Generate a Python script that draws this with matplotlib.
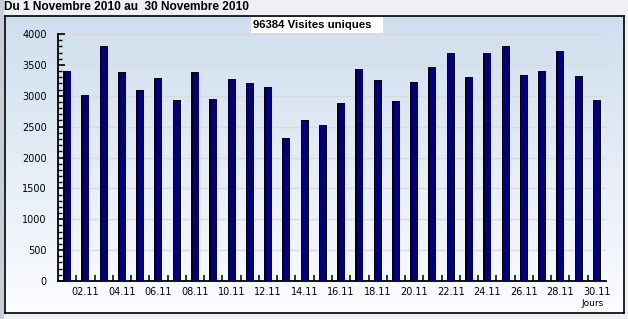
import numpy as np
import matplotlib
matplotlib.use("Agg")
import matplotlib.pyplot as plt
from matplotlib.patches import Rectangle
import matplotlib.transforms as mtransforms

days = list(range(1, 31))
visits = [3400, 3020, 3800, 3380, 3100, 3280, 2930, 3380, 2940, 3270,
          3200, 3140, 2320, 2600, 2530, 2880, 3440, 3250, 2910, 3230,
          3460, 3700, 3300, 3700, 3800, 3330, 3400, 3730, 3320, 2930]
tick_days = list(range(2, 31, 2))
tick_labels = ["%02d.11" % d for d in tick_days]
title = "Du 1 Novembre 2010 au  30 Novembre 2010"
badge = "96384 Visites uniques"
xlabel = "Jours"

W, H = 628, 319
fig = plt.figure(figsize=(W / 100, H / 100), dpi=100)
fig.patch.set_facecolor("#EEF0F4")

def fx(px):
    return px / W

def fy(py):
    return 1 - py / H

# left gray strip
fig.patches.append(Rectangle((0, 0), fx(4), 1, transform=fig.transFigure,
                             facecolor="#C9CDD8", edgecolor="none", zorder=0))

# gradient panel
bg = fig.add_axes([fx(5), fy(313), fx(624 - 5), (313 - 16) / H], zorder=0)
grad = np.linspace(0, 1, 256).reshape(-1, 1)
top = np.array([0.812, 0.871, 0.933])
bot = np.array([0.985, 0.99, 1.0])
img = top[None, None, :] * (1 - grad[:, :, None]) + bot[None, None, :] * grad[:, :, None]
bg.imshow(img, aspect="auto", extent=[0, 1, 0, 1])
bg.set_xticks([])
bg.set_yticks([])
for s in bg.spines.values():
    s.set_color("black")
    s.set_linewidth(1.2)

ax = fig.add_axes([fx(58), fy(281), fx(606 - 58), (281 - 34) / H], zorder=2)
ax.patch.set_alpha(0)
ax.set_xlim(0.5, 30.5)
ax.set_ylim(0, 4000)

ax.set_axisbelow(True)
ax.yaxis.grid(True, color="#D9D9D9", linewidth=1)

# black outline bars, then navy fill slightly offset (thicker left edge)
off = mtransforms.ScaledTranslation(0.6 / 100, -1.0 / 100, fig.dpi_scale_trans)
ax.bar(days, visits, width=0.44, color="black", edgecolor="none", zorder=3)
ax.bar(days, visits, width=0.33, color="#000080", edgecolor="none", zorder=4,
       transform=ax.transData + off)

for s in ["top", "right"]:
    ax.spines[s].set_visible(False)
ax.spines["left"].set_linewidth(1.3)
ax.spines["bottom"].set_linewidth(1.3)

ax.set_yticks(np.arange(0, 4001, 500))
ax.set_yticks(np.arange(0, 4001, 100), minor=True)
ax.tick_params(axis="y", which="major", direction="in", length=5, width=1.2,
               labelsize=7, pad=8)
ax.tick_params(axis="y", which="minor", direction="in", length=3, width=1)

ax.set_xticks(tick_days)
ax.set_xticklabels(tick_labels)
ax.set_xticks(np.arange(1.5, 30.5, 1), minor=True)
ax.tick_params(axis="x", which="major", length=0, labelsize=7, pad=4)
ax.tick_params(axis="x", which="minor", direction="in", length=4, width=1.1)
for lab in ax.get_xticklabels() + ax.get_yticklabels():
    lab.set_family("DejaVu Sans")

fig.text(fx(4), fy(7), title, ha="left", va="center", fontsize=8.6,
         fontweight="bold", family="Liberation Sans", color="black")

fig.patches.append(Rectangle((fx(251), fy(33)), fx(383 - 251), (33 - 17) / H,
                             transform=fig.transFigure, facecolor="white",
                             edgecolor="none", zorder=5))
fig.text(fx(253), fy(25), badge, ha="left", va="center", fontsize=8.2,
         fontweight="bold", family="Liberation Sans", color="black", zorder=6)

fig.text(fx(604), fy(303), xlabel, ha="right", va="center", fontsize=6.5,
         family="DejaVu Sans", color="black")

fig.savefig("out.png", dpi=100, facecolor=fig.get_facecolor())
